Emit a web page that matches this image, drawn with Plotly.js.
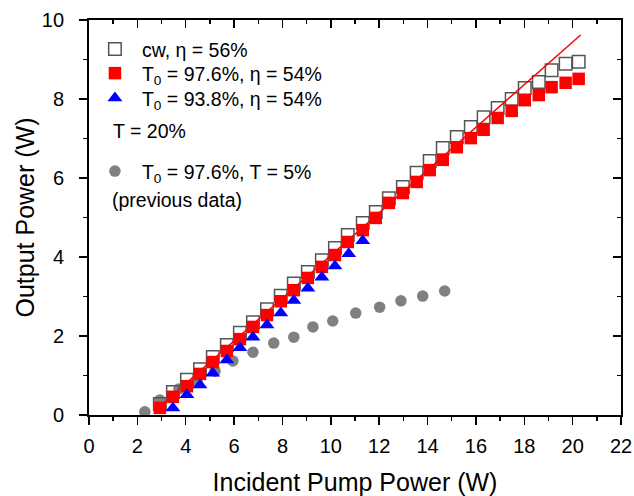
<!DOCTYPE html>
<html>
<head>
<meta charset="utf-8">
<script src="https://cdn.plot.ly/plotly-3.0.1.min.js"></script>
<style>html,body{margin:0;padding:0;background:#fff;}#chart{width:634px;height:496px;}</style>
</head>
<body>
<div id="chart"></div>
<script>
// Incident pump power (W) for the T = 20% series
const pumpT20 = [2.93, 3.47, 4.05, 4.59, 5.12, 5.70, 6.24, 6.78, 7.36, 7.93, 8.47, 9.05, 9.63, 10.17, 10.70, 11.32, 11.86, 12.40, 12.98, 13.55, 14.09, 14.63, 15.21, 15.79, 16.32, 16.90, 17.48, 18.02, 18.60, 19.13, 19.71, 20.25];
// cw output (open squares)
const outCw = [0.28, 0.58, 0.89, 1.16, 1.47, 1.77, 2.08, 2.35, 2.68, 3.02, 3.33, 3.62, 3.92, 4.23, 4.56, 4.86, 5.14, 5.49, 5.77, 6.13, 6.43, 6.76, 7.04, 7.29, 7.54, 7.77, 8.00, 8.28, 8.43, 8.73, 8.89, 8.94];
// T0 = 97.6% output (red squares)
const outT976 = [0.18, 0.46, 0.73, 1.04, 1.34, 1.62, 1.92, 2.23, 2.53, 2.88, 3.16, 3.47, 3.75, 4.05, 4.38, 4.68, 4.99, 5.37, 5.62, 5.90, 6.20, 6.46, 6.78, 7.01, 7.22, 7.52, 7.70, 7.97, 8.10, 8.30, 8.41, 8.51];
// T0 = 93.8% (blue triangles)
const pumpT938 = [3.47, 4.05, 4.59, 5.12, 5.70, 6.24, 6.78, 7.36, 7.93, 8.47, 9.05, 9.63, 10.17, 10.74, 11.32];
const outT938 = [0.18, 0.51, 0.76, 1.06, 1.39, 1.70, 1.97, 2.28, 2.58, 2.90, 3.21, 3.49, 3.77, 4.08, 4.41];
// previous data, T = 5% (gray circles)
const pumpPrev = [2.31, 2.93, 3.72, 4.46, 5.21, 5.95, 6.78, 7.64, 8.47, 9.26, 10.08, 11.03, 12.02, 12.90, 13.80, 14.71];
const outPrev = [0.08, 0.38, 0.66, 0.86, 1.11, 1.37, 1.59, 1.82, 1.97, 2.23, 2.38, 2.58, 2.73, 2.89, 3.01, 3.14];
// linear fit line endpoints
const fitX = [2.75, 20.33];
const fitY = [0.12, 9.62];

const FONT = 'Liberation Sans, Arial, sans-serif';
const LFS = 19.5;

const traces = [
  {x: pumpPrev, y: outPrev, mode: 'markers', type: 'scatter', name: 'T<sub>0</sub> = 97.6%, T = 5%', legend: 'legend4',
   marker: {symbol: 'circle', size: 11.5, color: '#808080'}},
  {x: pumpT20, y: outCw, mode: 'markers', type: 'scatter', name: 'cw, η = 56%', legend: 'legend',
   marker: {symbol: 'square-open', size: 12.5, color: '#555555', line: {width: 1.5, color: '#555555'}}},
  {x: pumpT20, y: outT976, mode: 'markers', type: 'scatter', name: 'T<sub>0</sub> = 97.6%, η = 54%', legend: 'legend2',
   marker: {symbol: 'square', size: 12.5, color: '#ff0000'}},
  {x: pumpT938, y: outT938, mode: 'markers', type: 'scatter', name: 'T<sub>0</sub> = 93.8%, η = 54%', legend: 'legend3',
   marker: {symbol: 'triangle-up', size: 13, color: '#0000ff'}},
  {x: fitX, y: fitY, mode: 'lines', type: 'scatter', showlegend: false,
   line: {color: '#ff0000', width: 1.5}},
  {x: [], y: [], xaxis: 'x2', yaxis: 'y2', type: 'scatter', mode: 'markers', showlegend: false}
];

const axisCommon = {
  showline: true, linecolor: '#000', linewidth: 1.8, showgrid: false, zeroline: false,
  tickcolor: '#000', tickwidth: 1.5, ticklen: 8,
  tickfont: {family: FONT, size: 20, color: '#000'}
};

function leg(y) {
  return {x: -0.002, y: y, xanchor: 'left', yanchor: 'top', bgcolor: 'rgba(0,0,0,0)',
    font: {family: FONT, size: LFS, color: '#000'}, itemwidth: 44};
}

const layout = {
  width: 634, height: 496,
  margin: {l: 89, r: 13, t: 20, b: 81},
  paper_bgcolor: '#fff', plot_bgcolor: '#fff',
  font: {family: FONT, color: '#000'},
  xaxis: Object.assign({}, axisCommon, {
    range: [0, 22], tick0: 0, dtick: 2, ticks: 'outside', ticklabelstandoff: 4,
    minor: {dtick: 1, ticks: 'outside', ticklen: 4, tickwidth: 1.5, tickcolor: '#000'},
    title: {text: 'Incident Pump Power (W)', font: {family: FONT, size: 25, color: '#000'}, standoff: 18}
  }),
  yaxis: Object.assign({}, axisCommon, {
    range: [0, 10], tick0: 0, dtick: 2, ticks: 'outside', ticksuffix: '\u00a0\u00a0',
    minor: {dtick: 1, ticks: 'outside', ticklen: 4, tickwidth: 1.5, tickcolor: '#000'},
    title: {text: 'Output Power (W)', font: {family: FONT, size: 25, color: '#000'}, standoff: 0}
  }),
  xaxis2: Object.assign({}, axisCommon, {
    overlaying: 'x', side: 'top', anchor: 'y', matches: 'x', range: [0, 22], tick0: 0, dtick: 2,
    ticks: 'inside', showticklabels: false,
    minor: {dtick: 1, ticks: 'inside', ticklen: 4, tickwidth: 1.5, tickcolor: '#000'}
  }),
  yaxis2: Object.assign({}, axisCommon, {
    overlaying: 'y', side: 'right', anchor: 'x', range: [0, 10], tick0: 0, dtick: 2,
    ticks: 'inside', showticklabels: false,
    minor: {dtick: 1, ticks: 'inside', ticklen: 4, tickwidth: 1.5, tickcolor: '#000'}
  }),
  legend: leg(0.975),
  legend2: leg(0.914),
  legend3: leg(0.851),
  legend4: leg(0.666),
  annotations: [
    {text: 'T = 20%', xref: 'paper', yref: 'paper', x: 0.042, y: 0.719, xanchor: 'left', yanchor: 'middle',
     showarrow: false, font: {family: FONT, size: LFS, color: '#000'}},
    {text: '(previous data)', xref: 'paper', yref: 'paper', x: 0.040, y: 0.544, xanchor: 'left', yanchor: 'middle',
     showarrow: false, font: {family: FONT, size: LFS, color: '#000'}}
  ],
  showlegend: true
};

Plotly.newPlot('chart', traces, layout, {displayModeBar: false, staticPlot: true});
</script>
</body>
</html>
